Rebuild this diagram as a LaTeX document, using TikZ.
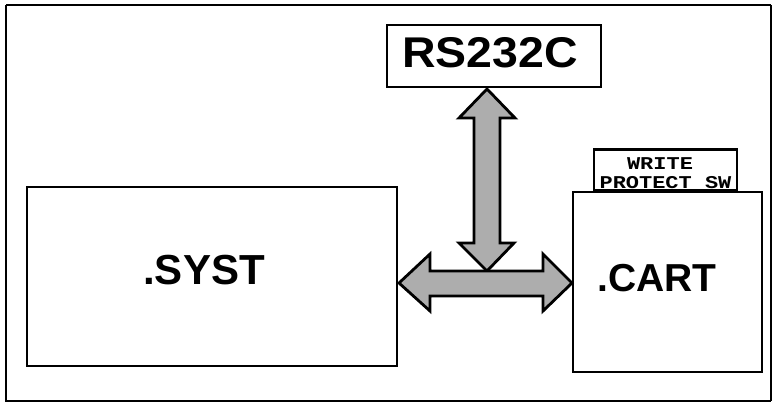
\documentclass[tikz,border=0pt]{standalone}
\usepackage{fontspec}
\setmainfont{Liberation Sans}
\newfontfamily\smallmono{Liberation Mono}
\begin{document}
\begin{tikzpicture}[x=1pt,y=-1pt,
  box/.style={draw=black,line width=2.6pt,fill=white,inner sep=0pt},
  blockarrow/.style={draw=black,line width=2.8pt,fill=black!32,line join=miter}]
\useasboundingbox (0,0) rectangle (773,409);
% outer frame
\draw[line width=2.4pt] (6,5) -- (771,5);
\draw[line width=2.4pt] (6,5) -- (6,401) -- (771,401);
\draw[line width=1.2pt] (771,5) -- (771,401);
% boxes
\node[box,minimum width=370pt,minimum height=179pt] (syst) at (212,276.5) {};
\node[font=\bfseries\fontsize{42}{42}\selectfont] at (204,270) {.SYST};
\node[box,minimum width=189pt,minimum height=180pt] (cart) at (667.5,282) {};
\node[font=\bfseries\fontsize{39}{39}\selectfont] at (657,278) {.CART};
\node[box,minimum width=143pt,minimum height=41pt,anchor=south] (wp) at (665.5,192) {};
\node[font=\smallmono\bfseries\fontsize{18}{18}\selectfont,xscale=1.22] at (660,163.5) {WRITE};
\node[font=\smallmono\bfseries\fontsize{18}{18}\selectfont,xscale=1.22] at (665.5,182.5) {PROTECT SW};
\node[box,minimum width=214pt,minimum height=62pt] (rs) at (494,56) {};
\node[font=\bfseries\fontsize{43}{43}\selectfont,xscale=1.08] at (490,53) {RS232C};
% vertical block arrow
\draw[blockarrow] (487,89) -- (515,118) -- (500,118) -- (500,243) -- (514,243) -- (487,271)
  -- (459,243) -- (474,243) -- (474,118) -- (459,118) -- cycle;
% horizontal block arrow
\draw[blockarrow] (399,283) -- (430,254) -- (430,271) -- (543,271) -- (543,254) -- (572,283)
  -- (543,311) -- (543,296) -- (430,296) -- (430,311) -- cycle;
\end{tikzpicture}
\end{document}
